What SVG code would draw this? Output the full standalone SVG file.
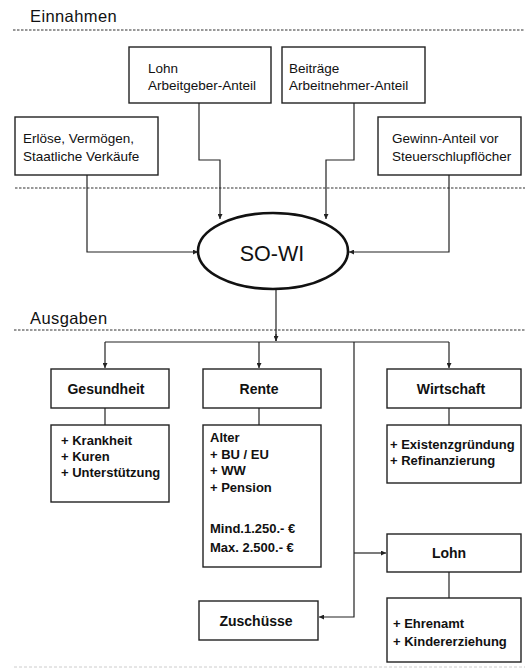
<svg xmlns="http://www.w3.org/2000/svg" width="525" height="670" viewBox="0 0 525 670">
<style>
  .box{fill:#fff;stroke:#222;stroke-width:1.4}
  .ln{fill:none;stroke:#222;stroke-width:1.2}
  .sep{stroke:#333;stroke-width:1.2;stroke-dasharray:2.5 1.5}
  text{font-family:"Liberation Sans",Arial,sans-serif;fill:#111}
  .h{font-size:16.5px;letter-spacing:0.4px}
  .t{font-size:13.5px}
  .b{font-size:14px;font-weight:bold}
  .s{font-size:13px;font-weight:bold}
</style>
<defs>
  <marker id="a" viewBox="0 0 10 10" refX="10" refY="5" markerWidth="5" markerHeight="5" orient="auto" markerUnits="userSpaceOnUse">
    <path d="M0,0 L10,5 L0,10 z" fill="#222"/>
  </marker>
</defs>
<rect width="525" height="670" fill="#fff"/>
<text class="h" x="30" y="22">Einnahmen</text>
<line class="sep" x1="13" y1="30" x2="525" y2="30"/>
<line class="sep" x1="15" y1="188" x2="525" y2="188"/>
<text class="h" x="30" y="324">Ausgaben</text>
<line class="sep" x1="14" y1="330" x2="525" y2="330"/>
<line x1="14" y1="667" x2="525" y2="667" stroke="#ccc" stroke-width="1" stroke-dasharray="3 2"/>
<g id="connectors">
  <path class="ln" d="M199,103 V160 H220 V219" marker-end="url(#a)"/>
  <path class="ln" d="M354,103 V160 H326 V219" marker-end="url(#a)"/>
  <path class="ln" d="M87,175 V252 H198" marker-end="url(#a)"/>
  <path class="ln" d="M449,175 V252 H349" marker-end="url(#a)"/>
  <path class="ln" d="M276,289 V341"/>
  <path class="ln" d="M276,334 V341" marker-end="url(#a)"/>
  <path class="ln" d="M105,342 H449"/>
  <path class="ln" d="M105,342 V368" marker-end="url(#a)"/>
  <path class="ln" d="M259,342 V368" marker-end="url(#a)"/>
  <path class="ln" d="M449,342 V368" marker-end="url(#a)"/>
  <path class="ln" d="M354,342 V617 H319" marker-end="url(#a)"/>
  <path class="ln" d="M354,553 H386" marker-end="url(#a)"/>
  <path class="ln" d="M105,408 V425"/>
  <path class="ln" d="M259,408 V425"/>
  <path class="ln" d="M449,408 V425"/>
  <path class="ln" d="M449,572 V598"/>
</g>
<g id="lohn-ag">
  <rect class="box" x="129" y="47" width="142" height="56"/>
  <text class="t" x="148" y="73">Lohn</text>
  <text class="t" x="148" y="90">Arbeitgeber-Anteil</text>
</g>
<g id="beitraege">
  <rect class="box" x="282" y="47" width="143" height="56"/>
  <text class="t" x="289" y="73">Beiträge</text>
  <text class="t" x="289" y="90">Arbeitnehmer-Anteil</text>
</g>
<g id="erloese">
  <rect class="box" x="15" y="117" width="143" height="58"/>
  <text class="t" x="23" y="143">Erlöse, Vermögen,</text>
  <text class="t" x="23" y="161">Staatliche Verkäufe</text>
</g>
<g id="gewinn">
  <rect class="box" x="378" y="117" width="143" height="58"/>
  <text class="t" x="392" y="143">Gewinn-Anteil vor</text>
  <text class="t" x="392" y="161">Steuerschlupflöcher</text>
</g>
<g id="sowi">
  <ellipse cx="273" cy="251" rx="75" ry="38" fill="#fff" stroke="#111" stroke-width="2.6"/>
  <text x="272" y="261" text-anchor="middle" font-size="21.5">SO-WI</text>
</g>
<g id="gesundheit">
  <rect class="box" x="51" y="369" width="118" height="39"/>
  <text class="b" x="106" y="394" text-anchor="middle">Gesundheit</text>
</g>
<g id="gesundheit-items">
  <rect class="box" x="51" y="425" width="118" height="77"/>
  <text class="s" x="61" y="445">+ Krankheit</text>
  <text class="s" x="61" y="461">+ Kuren</text>
  <text class="s" x="61" y="477">+ Unterstützung</text>
</g>
<g id="rente">
  <rect class="box" x="203" y="369" width="118" height="39"/>
  <text class="b" x="259" y="394" text-anchor="middle">Rente</text>
</g>
<g id="rente-items">
  <rect class="box" x="203" y="425" width="118" height="142"/>
  <text class="s" x="210" y="442">Alter</text>
  <text class="s" x="210" y="459">+ BU / EU</text>
  <text class="s" x="210" y="475">+ WW</text>
  <text class="s" x="210" y="492">+ Pension</text>
  <text class="s" x="210" y="533">Mind.1.250.- €</text>
  <text class="s" x="210" y="552">Max. 2.500.- €</text>
</g>
<g id="wirtschaft">
  <rect class="box" x="387" y="369" width="134" height="39"/>
  <text class="b" x="451" y="394" text-anchor="middle">Wirtschaft</text>
</g>
<g id="wirtschaft-items">
  <rect class="box" x="387" y="425" width="134" height="58"/>
  <text class="s" x="390" y="449">+ Existenzgründung</text>
  <text class="s" x="390" y="465">+ Refinanzierung</text>
</g>
<g id="lohn">
  <rect class="box" x="387" y="534" width="134" height="38"/>
  <text class="b" x="449" y="558" text-anchor="middle">Lohn</text>
</g>
<g id="lohn-items">
  <rect class="box" x="387" y="598" width="134" height="64"/>
  <text class="s" x="393" y="628">+ Ehrenamt</text>
  <text class="s" x="393" y="646">+ Kindererziehung</text>
</g>
<g id="zuschuesse">
  <rect class="box" x="199" y="601" width="119" height="39"/>
  <text class="b" x="256" y="626" text-anchor="middle">Zuschüsse</text>
</g>
</svg>
